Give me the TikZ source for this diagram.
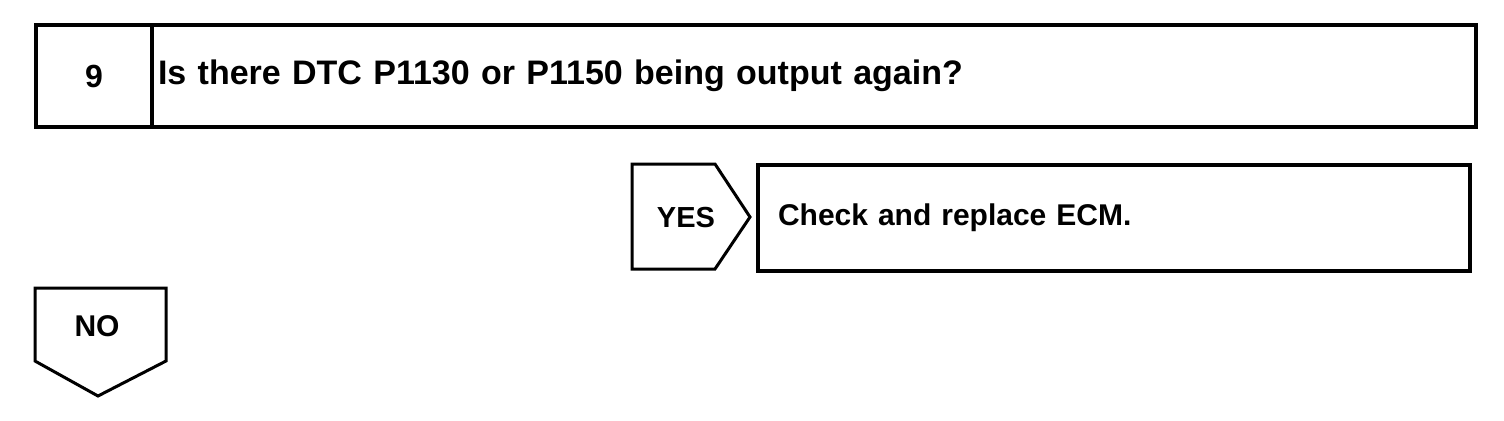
\documentclass[tikz,border=0pt]{standalone}
\usepackage{fontspec}
\setmainfont{Liberation Sans}
\usetikzlibrary{positioning}

\tikzset{
	box/.style={draw,line width=2pt,inner sep=0pt,outer sep=0pt,minimum height=51pt},
	tag/.style={draw,line width=1.5pt,line join=miter},
	txt/.style={font=\bfseries\fontsize{#1}{18}\selectfont,inner sep=0pt},
	txt/.default=15
}

\begin{document}
\begin{tikzpicture}[x=0.5pt,y=-0.5pt]
		\useasboundingbox (0,0) rectangle (1504,420);
		\node[box,txt=16,anchor=north west,minimum width=58pt] (num) at (36,25) {9};
		\node[box,txt=17,right=0pt of num,text width=656pt,inner xsep=3pt,align=left] (ask) {Is there DTC P1130 or P1150 being output again?};
		\node[box,txt,anchor=north west,minimum height=53pt,text width=336pt,inner xsep=10pt,align=left] (act) at (758,165) {Check and replace ECM.};
		\draw[tag] (632,164) -- (715,164) -- (750,217) -- (715,269) -- (632,269) -- cycle;
		\node[txt=14.5] (yes) at (686,218) {YES};
		\draw[tag] (35,288) -- (166,288) -- (166,361) -- (98,396) -- (35,361) -- cycle;
		\node[txt] (no) at (97,326) {NO};
\end{tikzpicture}
\end{document}
